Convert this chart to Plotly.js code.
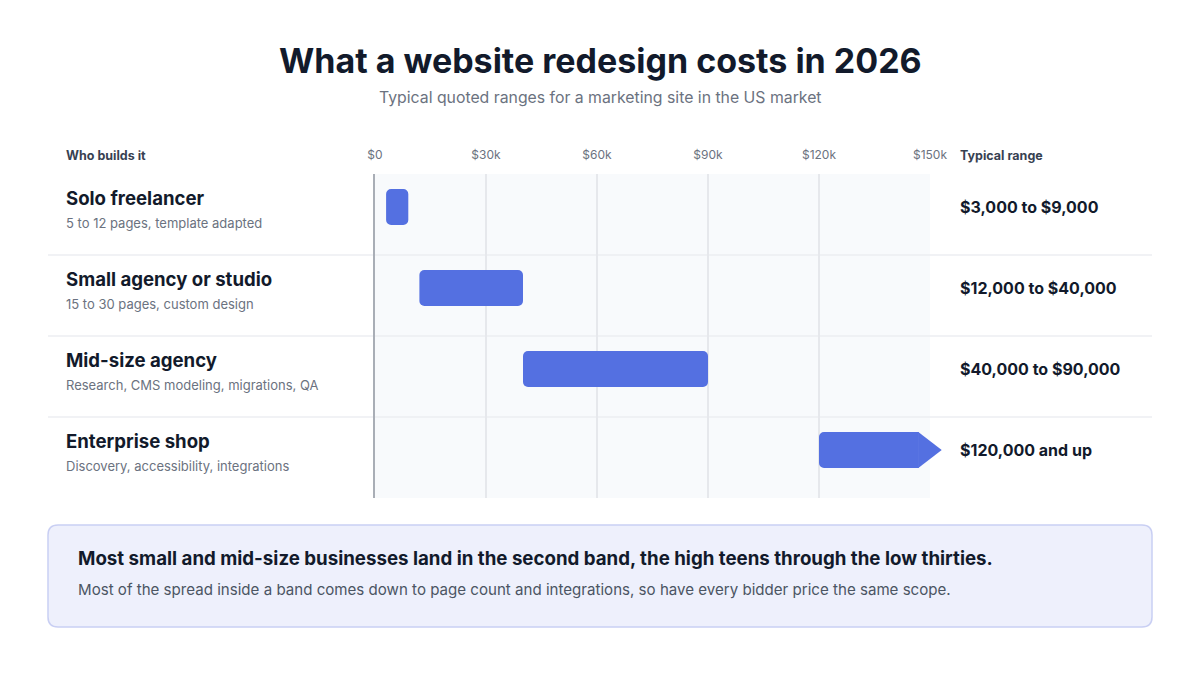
<!DOCTYPE html>
<html>
<head>
<meta charset="utf-8">
<script src="https://cdn.plot.ly/plotly-3.0.1.min.js"></script>
<style>
  html, body { margin: 0; padding: 0; background: #ffffff; }
  #plot { width: 1200px; height: 675px; }
</style>
</head>
<body>
<div id="plot"></div>
<script>
// data
const builders = ['Solo freelancer', 'Small agency or studio', 'Mid-size agency', 'Enterprise shop'];
const scopes = [
  '5 to 12 pages, template adapted',
  '15 to 30 pages, custom design',
  'Research, CMS modeling, migrations, QA',
  'Discovery, accessibility, integrations',
];
const lowK = [3, 12, 40, 120];          // $k
const highK = [9, 40, 90, null];        // null = open ended
const rangeLabels = ['$3,000 to $9,000', '$12,000 to $40,000', '$40,000 to $90,000', '$120,000 and up'];
const tickVals = [0, 30, 60, 90, 120, 150];
const tickText = ['$0', '$30k', '$60k', '$90k', '$120k', '$150k'];

const FONT = 'Inter, "Open Sans", sans-serif';
const DARK = '#121a2b';
const GREY = '#6b7280';
const BAR = '#5470e1';

// plot box in pixels
const W = 1200, H = 675;
const M = { l: 375, r: 270, t: 174, b: 177 };
const PW = W - M.l - M.r, PH = H - M.t - M.b;
const xMax = tickVals[tickVals.length - 1];
const px = (p) => (p - M.l) / PW;            // pixel x -> paper x
const py = (p) => 1 - (p - M.t) / PH;        // pixel y -> paper y

// open ended bar runs to the end of the axis, arrow head sits at the end
const isOpen = highK.map(h => h === null);
const barEnd = highK.map(h => (h === null ? xMax - 3 : h));
const openRows = builders.filter((b, i) => isOpen[i]);
const openLow = lowK.filter((v, i) => isOpen[i]);

const barW = 0.445;

// closed ranges + the rounded start of the open ones
const bars = {
  type: 'bar',
  orientation: 'h',
  y: builders,
  base: lowK,
  x: barEnd.map((e, i) => (isOpen[i] ? 10 : e - lowK[i])),
  width: builders.map(() => barW),
  marker: { color: BAR, line: { width: 0 } },
  hoverinfo: 'skip',
};

// square-ended body of the open ranges
const openBody = {
  type: 'bar',
  orientation: 'h',
  y: openRows,
  base: openLow.map(v => v + 5),
  x: openLow.map(v => xMax - 3 - (v + 5)),
  width: openRows.map(() => barW),
  marker: { color: BAR, line: { width: 0 }, cornerradius: 0 },
  hoverinfo: 'skip',
};

const arrows = {
  type: 'scatter',
  mode: 'markers',
  x: openRows.map(() => xMax - 1.05),
  y: openRows,
  cliponaxis: false,
  marker: { symbol: 'triangle-right', size: 31.2, color: BAR, line: { width: 0 } },
  hoverinfo: 'skip',
};

// rounded rect path in paper coords
function roundRect(x0, y0, x1, y1, r) {
  const X = px, Y = py;
  return 'M' + X(x0 + r) + ',' + Y(y0) +
    ' L' + X(x1 - r) + ',' + Y(y0) +
    ' Q' + X(x1) + ',' + Y(y0) + ' ' + X(x1) + ',' + Y(y0 + r) +
    ' L' + X(x1) + ',' + Y(y1 - r) +
    ' Q' + X(x1) + ',' + Y(y1) + ' ' + X(x1 - r) + ',' + Y(y1) +
    ' L' + X(x0 + r) + ',' + Y(y1) +
    ' Q' + X(x0) + ',' + Y(y1) + ' ' + X(x0) + ',' + Y(y1 - r) +
    ' L' + X(x0) + ',' + Y(y0 + r) +
    ' Q' + X(x0) + ',' + Y(y0) + ' ' + X(x0 + r) + ',' + Y(y0) + ' Z';
}

const shapes = [];
// row separators
for (let k = 1; k < builders.length; k++) {
  shapes.push({
    type: 'line', xref: 'paper', yref: 'paper',
    x0: px(48), x1: px(1152), y0: 1 - k / builders.length, y1: 1 - k / builders.length,
    line: { color: '#eceef2', width: 1.5 }, layer: 'below',
  });
}
// callout box
shapes.push({
  type: 'path', xref: 'paper', yref: 'paper',
  path: roundRect(48, 525, 1152, 627, 10),
  fillcolor: '#eef0fc', line: { color: '#c9cff3', width: 1.5 }, layer: 'below',
});

const annotations = [];
const txt = (o) => Object.assign({ showarrow: false, xref: 'paper', yref: 'paper' }, o);

annotations.push(txt({
  x: px(600), y: py(60), xanchor: 'center', yanchor: 'middle',
  text: '<b>What a website redesign costs in 2026</b>',
  font: { family: FONT, size: 34, color: DARK, weight: 700 },
}));
annotations.push(txt({
  x: px(600), y: py(97), xanchor: 'center', yanchor: 'middle',
  text: 'Typical quoted ranges for a marketing site in the US market',
  font: { family: FONT, size: 15.8, color: GREY },
}));
annotations.push(txt({
  x: px(64), y: py(155), xanchor: 'left', yanchor: 'middle',
  text: '<b>Who builds it</b>',
  font: { family: FONT, size: 12.5, color: '#374151', weight: 600 },
}));
annotations.push(txt({
  x: px(958), y: py(155), xanchor: 'left', yanchor: 'middle',
  text: '<b>Typical range</b>',
  font: { family: FONT, size: 12.5, color: '#374151', weight: 600 },
}));

builders.forEach((b, i) => {
  annotations.push({
    showarrow: false, xref: 'paper', yref: 'y', x: px(64), y: b, yshift: 9,
    xanchor: 'left', yanchor: 'middle', text: '<b>' + b + '</b>',
    font: { family: FONT, size: 18.6, color: DARK, weight: 600 },
  });
  annotations.push({
    showarrow: false, xref: 'paper', yref: 'y', x: px(64), y: b, yshift: -16,
    xanchor: 'left', yanchor: 'middle', text: scopes[i],
    font: { family: FONT, size: 13, color: GREY },
  });
  annotations.push({
    showarrow: false, xref: 'paper', yref: 'y', x: px(958), y: b,
    xanchor: 'left', yanchor: 'middle', text: '<b>' + rangeLabels[i] + '</b>',
    font: { family: FONT, size: 16, color: DARK, weight: 600 },
  });
});

annotations.push(txt({
  x: px(76), y: py(558), xanchor: 'left', yanchor: 'middle',
  text: '<b>Most small and mid-size businesses land in the second band, the high teens through the low thirties.</b>',
  font: { family: FONT, size: 18.7, color: DARK, weight: 600 },
}));
annotations.push(txt({
  x: px(76), y: py(589), xanchor: 'left', yanchor: 'middle',
  text: 'Most of the spread inside a band comes down to page count and integrations, so have every bidder price the same scope.',
  font: { family: FONT, size: 15.1, color: '#4b5563' },
}));

// category i sits 33px under the top of its 81px row
const rowPx = PH / builders.length;
const yTop = -33 / rowPx;

const layout = {
  width: W, height: H,
  margin: M,
  paper_bgcolor: '#ffffff',
  plot_bgcolor: '#f8fafc',
  showlegend: false,
  barmode: 'overlay',
  barcornerradius: 5,
  font: { family: FONT, color: DARK },
  xaxis: {
    range: [0, xMax],
    side: 'top',
    tickvals: tickVals,
    ticktext: tickText,
    ticks: '',
    ticklabelstandoff: 12,
    tickfont: { family: FONT, size: 12, color: GREY },
    showgrid: true,
    gridcolor: '#e6e8ec',
    gridwidth: 1.5,
    zeroline: false,
    showline: false,
    fixedrange: true,
  },
  yaxis: {
    type: 'category',
    categoryorder: 'array',
    categoryarray: builders,
    range: [yTop + builders.length, yTop],
    showticklabels: false,
    ticks: '',
    showgrid: false,
    zeroline: false,
    showline: true,
    linecolor: '#a9aeb6',
    linewidth: 2,
    fixedrange: true,
  },
  shapes: shapes,
  annotations: annotations,
};

Plotly.newPlot('plot', [bars, openBody, arrows], layout, { displayModeBar: false, staticPlot: true });
</script>
</body>
</html>
